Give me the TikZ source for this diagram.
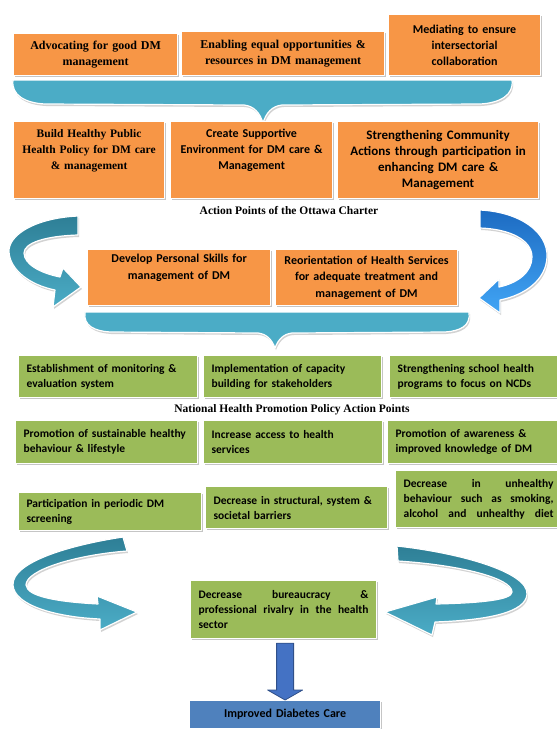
\documentclass[tikz,border=0pt]{standalone}
\usepackage{fontspec}
\setmainfont{Liberation Serif}
\newfontfamily\carlito{Carlito}
\usepackage{tikz}
\usetikzlibrary{shadows}
\usetikzlibrary{calc}
\definecolor{orangebox}{HTML}{F79646}
\definecolor{greenbox}{HTML}{9BBB59}
\definecolor{tealbrace}{HTML}{4BACC6}
\definecolor{tealdark}{HTML}{2E7F96}
\definecolor{bluelight}{HTML}{41A5F5}
\definecolor{bluedark}{HTML}{1D6BC2}
\definecolor{bluearrow}{HTML}{4472C4}
\definecolor{bluebox}{HTML}{4F81BD}

\begin{document}
\begin{tikzpicture}[x=1pt,y=-1pt,line cap=round,line join=round,
  boxsize/.style n args={3}{minimum width=#1,minimum height=#2,text width=#3},
  box/.style={anchor=north west,draw=white,line width=1.2pt,inner ysep=2pt,
    drop shadow={shadow xshift=1.3pt,shadow yshift=-1.8pt,opacity=0.45}},
  obox/.style={box,fill=orangebox,inner xsep=3pt,align=center,font=\carlito\bfseries\fontsize{12}{16}\selectfont},
  serifbox/.style={obox,font=\bfseries\fontsize{12}{16}\selectfont},
  gbox/.style={box,fill=greenbox,inner xsep=8pt,align=left,font=\carlito\bfseries\fontsize{11.5}{15}\selectfont},
  jbox/.style={gbox,align=justify},
  caption/.style={font=\bfseries\fontsize{11.5}{13}\selectfont},
  brace/.style={fill=tealbrace,draw=white,line width=1.2pt,
    drop shadow={shadow xshift=1pt,shadow yshift=-2pt,opacity=0.35}},
  ribbon/.style={draw=white,line width=1.2pt,
    drop shadow={shadow xshift=1pt,shadow yshift=-2pt,opacity=0.35}},
  downarrow/.style={fill=bluearrow,draw=bluearrow!70!black,line width=0.8pt}]
\useasboundingbox (0,0) rectangle (557,729);
\fill [white] (0,0) rectangle (557,729);
%Ottawa charter
\node [serifbox,boxsize={164}{42}{158}] (advocate) at (13,33) {Advocating for good DM\\management};
\node [serifbox,boxsize={203}{44}{197}] (enable) at (181,31) {Enabling equal opportunities \&\\resources in DM management};
\node [obox,boxsize={152}{61}{146}] (mediate) at (388,14) {Mediating to ensure\\intersectorial\\collaboration};
\draw [brace] (13,80) -- (512,80) .. controls (514,95) and (500,103) .. (480,104) -- (282,105) .. controls (272,106) and (266,113) .. (263,123) .. controls (260,113) and (254,106) .. (244,105) -- (45,104) .. controls (25,103) and (11,95) .. (13,80) -- cycle;
\node [serifbox,boxsize={151}{77}{145},font=\bfseries\fontsize{11.5}{16}\selectfont] (policy) at (13,121) {Build Healthy Public\\Health Policy for DM care\\\& management\\\strut};
\node [obox,boxsize={162}{77}{156}] (environ) at (170,121) {Create Supportive\\Environment for DM care \&\\Management\\\strut};
\node [obox,boxsize={201}{77}{195},font=\carlito\bfseries\fontsize{13}{16}\selectfont] (community) at (337,121) {Strengthening Community\\Actions through participation in\\enhancing DM care \&\\Management};
\node [caption] (ottawa) at (289,211) {Action Points of the Ottawa Charter};
\draw [ribbon,top color=tealdark,bottom color=tealbrace] (78,216) .. controls (35,218) and (8,235) .. (9,252) .. controls (10,270) and (30,285) .. (55,290) -- (53,307) -- (81,287) -- (63,268) -- (60,277) .. controls (40,273) and (24,264) .. (24,253) .. controls (24,243) and (45,236) .. (78,235) -- cycle;
\draw [ribbon,top color=bluedark,bottom color=bluelight] (480,210) .. controls (520,212) and (548,232) .. (547,257) .. controls (546,280) and (525,295) .. (500,300) -- (500,313) -- (479,298) -- (499,279) -- (499,287) .. controls (518,283) and (532,272) .. (532,257) .. controls (532,240) and (510,229) .. (480,228) -- cycle;
\node [obox,boxsize={183}{56}{177},font=\carlito\bfseries\fontsize{12}{17}\selectfont] (skills) at (87,249) {Develop Personal Skills for\\management of DM\\\strut};
\node [obox,boxsize={182}{56}{176},font=\carlito\bfseries\fontsize{12}{16.5}\selectfont] (reorient) at (275,249) {Reorientation of Health Services\\for adequate treatment and\\management of DM};
\draw [brace] (85,312) -- (469,312) .. controls (471,326) and (460,331) .. (445,332) -- (292,333) .. controls (283,334) and (278,340) .. (275,348) .. controls (272,340) and (267,334) .. (258,333) -- (110,332) .. controls (95,331) and (83,326) .. (85,312) -- cycle;
%National health promotion policy
\node [gbox,boxsize={179}{42}{163}] (monitor) at (18,355) {Establishment of monitoring \&\\evaluation system};
\node [gbox,boxsize={178}{42}{162}] (capacity) at (203,355) {Implementation of capacity\\building for stakeholders};
\node [gbox,boxsize={172}{42}{156}] (school) at (389,355) {Strengthening school health\\programs to focus on NCDs};
\node [caption] (nhpp) at (292,410) {National Health Promotion Policy Action Points};
\node [gbox,boxsize={182}{43}{166}] (lifestyle) at (15,420) {Promotion of sustainable healthy\\behaviour \& lifestyle};
\node [gbox,boxsize={179}{43}{163}] (access) at (203,420) {Increase access to health\\services};
\node [gbox,boxsize={174}{43}{158}] (awareness) at (387,420) {Promotion of awareness \&\\improved knowledge of DM};
\node [gbox,boxsize={183}{38}{167}] (screening) at (18,492) {Participation in periodic DM\\screening};
\node [gbox,boxsize={182}{42}{166}] (barriers) at (205,486) {Decrease in structural, system \&\\societal barriers};
\node [jbox,boxsize={166}{57}{150}] (unhealthy) at (395,470) {Decrease in unhealthy\linebreak behaviour such as smoking,\linebreak alcohol and unhealthy diet\parfillskip=0pt\par};
\draw [ribbon,top color=tealdark,bottom color=tealbrace] (123,537) .. controls (70,545) and (12,562) .. (13,585) .. controls (14,605) and (55,617) .. (100,619) -- (100,630) -- (137,612) -- (97,596) -- (98,604) .. controls (60,602) and (27,597) .. (26,585) .. controls (26,570) and (75,555) .. (127,551) -- cycle;
\draw [ribbon,top color=tealdark,bottom color=tealbrace] (397,546) .. controls (460,553) and (528,572) .. (527,594) .. controls (526,612) and (490,620) .. (435,622) -- (432,635) -- (385,612) -- (437,597) -- (436,604) .. controls (480,603) and (512,600) .. (512,592) .. controls (512,578) and (460,565) .. (398,561) -- cycle;
\node [jbox,boxsize={186}{58}{170}] (bureau) at (190,580) {Decrease bureaucracy \&\linebreak professional rivalry in the health\linebreak sector};
\node [obox,fill=bluebox,boxsize={191}{28}{185}] (improved) at (189,700) {Improved Diabetes Care};
\coordinate (arrtop) at ($(improved.north |- bureau.south)+(0,4)$);
\draw [downarrow] ($(arrtop)+(-8.5,0)$) -- ($(arrtop)+(8.5,0)$) -- ($(improved.north)+(8.5,-10)$) -- ($(improved.north)+(17.5,-10)$) -- (improved.north) -- ($(improved.north)+(-17.5,-10)$) -- ($(improved.north)+(-8.5,-10)$) -- cycle;
\end{tikzpicture}
\end{document}
